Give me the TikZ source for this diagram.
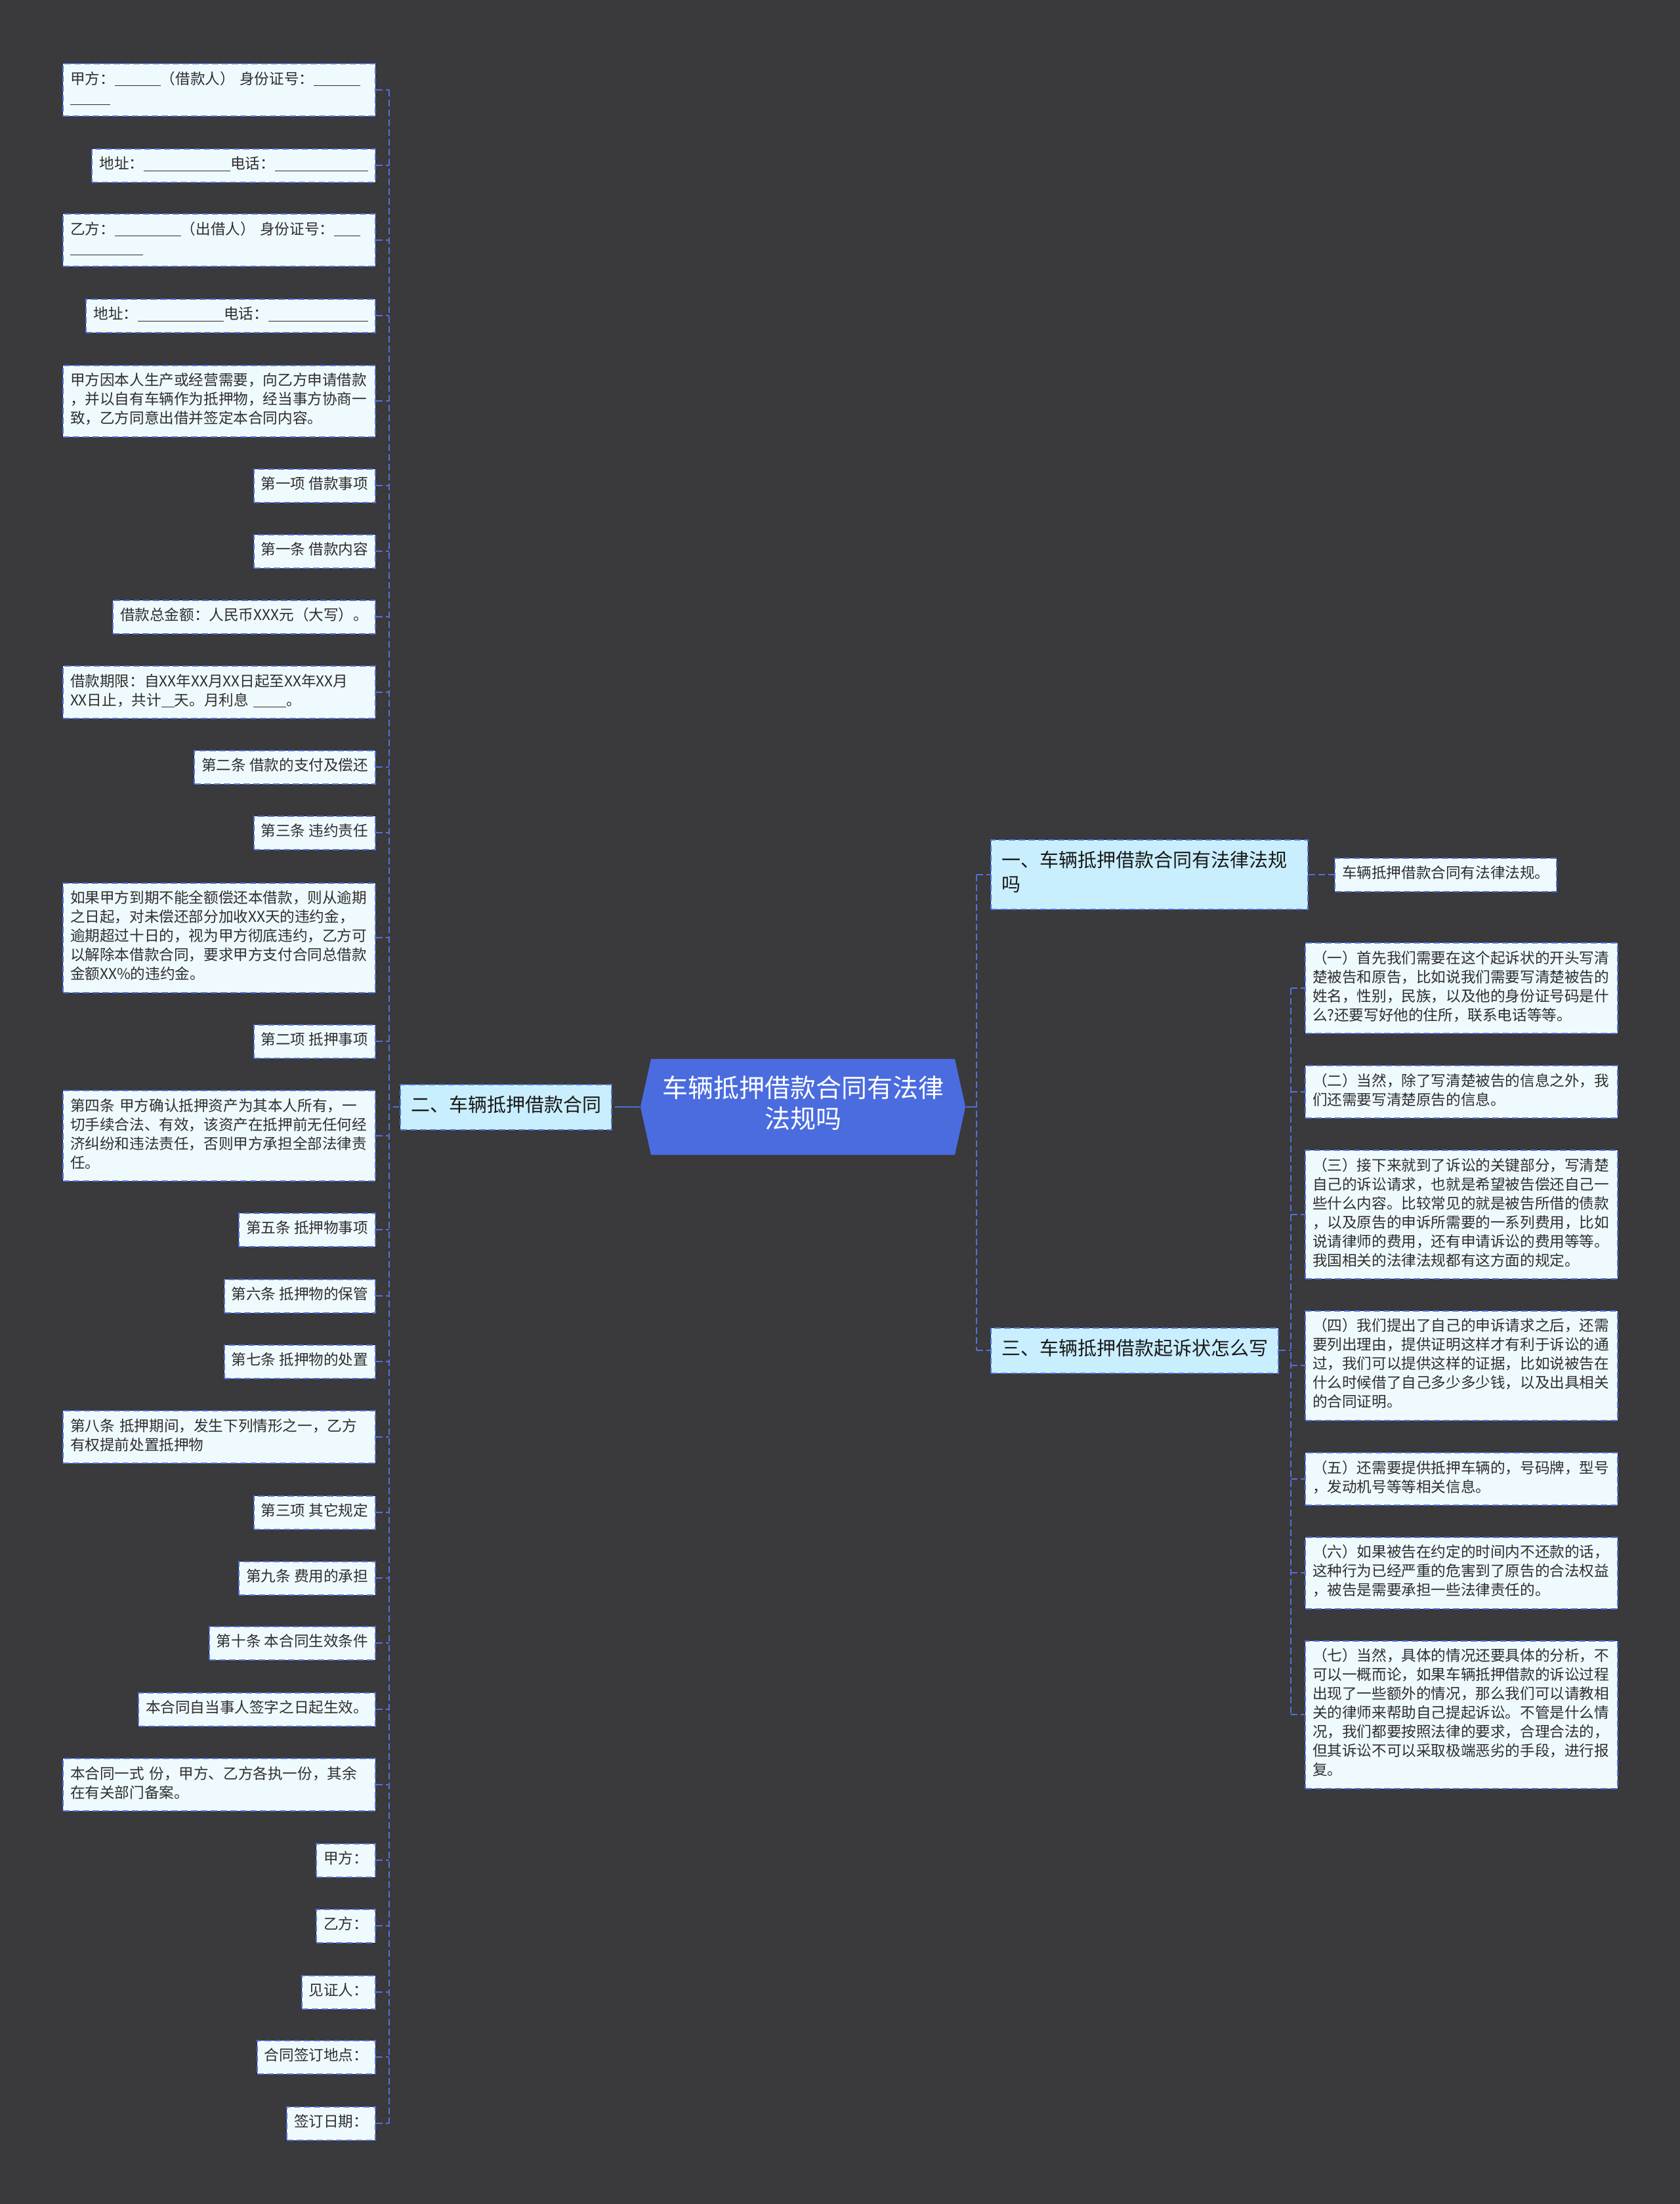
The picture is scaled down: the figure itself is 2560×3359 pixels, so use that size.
\documentclass[tikz,border=0pt]{standalone}
\usepackage{fontspec}
\setmainfont{Noto Sans CJK SC}
\usetikzlibrary{shapes.symbols}

\definecolor{canvas}{HTML}{3A393B}
\definecolor{leaffill}{HTML}{EFFAFE}
\definecolor{branchfill}{HTML}{C9EEFD}
\definecolor{rootblue}{HTML}{4A6CDF}
\definecolor{edgeblue}{HTML}{5272D8}
\definecolor{ink}{HTML}{2E2E2E}

\newcommand\leafsize{\fontsize{11.3pt}{14.5pt}\selectfont}
\newcommand\branchsize{\fontsize{14.5pt}{18.5pt}\selectfont}
\newcommand\rootsize{\fontsize{19.5pt}{23.5pt}\selectfont}
\newcommand\blank[1]{\rule[-1.5pt]{#1}{0.6pt}}

\begin{document}
\begin{tikzpicture}[
  x=0.5pt, y=-0.5pt,
  leaf/.style={rectangle, fill=leaffill, draw=edgeblue, line width=1pt,
    dash pattern=on 5pt off 2.5pt,
    preaction={draw=black!85, solid, line width=1pt},
    inner xsep=5.5pt, inner ysep=5.5pt, font=\leafsize, text=ink, align=left,
    execute at begin node=\strut, execute at end node=\strut},
  wideleaf/.style={leaf, text width=227pt},
  branch/.style={leaf, fill=branchfill, font=\branchsize, text=black!90,
    inner xsep=8pt, inner ysep=8pt},
  rootnode/.style={shape=signal, signal to=west and east, signal pointer angle=155,
    fill=rootblue, text=white, font=\rootsize, align=center,
    inner xsep=8.5pt, inner ysep=13pt,
    execute at begin node=\strut, execute at end node=\strut},
  twig/.style={draw=edgeblue, line width=1pt, dash pattern=on 5pt off 2.5pt},
  trunk/.style={draw=rootblue, line width=1.2pt}
]
  % Hintergrund
  \path[use as bounding box, fill=canvas] (0,0) rectangle (2560,3359);

  % Mitte
  \node[rootnode] (root) at (1223.5,1687) {车辆抵押借款合同有法律\\法规吗};

  % Hauptzweige
  \node[branch, anchor=west, text width=225.5pt] (b1) at (1509,1333) {一、车辆抵押借款合同有法律法规\\吗};
  \node[branch, anchor=east] (b2) at (933,1687) {二、车辆抵押借款合同};
  \node[branch, anchor=west] (b3) at (1509,2058) {三、车辆抵押借款起诉状怎么写};

  % Blaetter links (Vertrag)
  \node[wideleaf, anchor=east] (a1) at (573,137) {甲方：\blank{35pt}（借款人） 身份证号：\blank{35.5pt}\\\blank{30.5pt}};
  \node[leaf, anchor=east] (a2) at (573,252) {地址：\blank{66pt}电话：\blank{71pt}};
  \node[wideleaf, anchor=east] (a3) at (573,366) {乙方：\blank{50.5pt}（出借人） 身份证号：\blank{20pt}\\\blank{55.5pt}};
  \node[leaf, anchor=east] (a4) at (573,481) {地址：\blank{65.5pt}电话：\blank{76pt}};
  \node[wideleaf, anchor=east] (a5) at (573,611) {甲方因本人生产或经营需要，向乙方申请借款\\，并以自有车辆作为抵押物，经当事方协商一\\致，乙方同意出借并签定本合同内容。};
  \node[leaf, anchor=east] (a6) at (573,740) {第一项 借款事项};
  \node[leaf, anchor=east] (a7) at (573,840) {第一条 借款内容};
  \node[leaf, anchor=east] (a8) at (573,940) {借款总金额：人民币XXX元（大写）。};
  \node[wideleaf, anchor=east] (a9) at (573,1055) {借款期限：自XX年XX月XX日起至XX年XX月\\XX日止，共计\blank{10pt}天。月利息 \blank{25pt}。};
  \node[leaf, anchor=east] (a10) at (573,1169) {第二条 借款的支付及偿还};
  \node[leaf, anchor=east] (a11) at (573,1269) {第三条 违约责任};
  \node[wideleaf, anchor=east] (a12) at (573,1429) {如果甲方到期不能全额偿还本借款，则从逾期\\之日起，对未偿还部分加收XX天的违约金，\\逾期超过十日的，视为甲方彻底违约，乙方可\\以解除本借款合同，要求甲方支付合同总借款\\金额XX\%的违约金。};
  \node[leaf, anchor=east] (a13) at (573,1587) {第二项 抵押事项};
  \node[wideleaf, anchor=east] (a14) at (573,1731) {第四条 甲方确认抵押资产为其本人所有，一\\切手续合法、有效，该资产在抵押前无任何经\\济纠纷和违法责任，否则甲方承担全部法律责\\任。};
  \node[leaf, anchor=east] (a15) at (573,1874) {第五条 抵押物事项};
  \node[leaf, anchor=east] (a16) at (573,1975) {第六条 抵押物的保管};
  \node[leaf, anchor=east] (a17) at (573,2075) {第七条 抵押物的处置};
  \node[wideleaf, anchor=east] (a18) at (573,2190) {第八条 抵押期间，发生下列情形之一，乙方\\有权提前处置抵押物};
  \node[leaf, anchor=east] (a19) at (573,2305) {第三项 其它规定};
  \node[leaf, anchor=east] (a20) at (573,2405) {第九条 费用的承担};
  \node[leaf, anchor=east] (a21) at (573,2504) {第十条 本合同生效条件};
  \node[leaf, anchor=east] (a22) at (573,2605) {本合同自当事人签字之日起生效。};
  \node[wideleaf, anchor=east] (a23) at (573,2720) {本合同一式 份，甲方、乙方各执一份，其余\\在有关部门备案。};
  \node[leaf, anchor=east] (a24) at (573,2835) {甲方：};
  \node[leaf, anchor=east] (a25) at (573,2935) {乙方：};
  \node[leaf, anchor=east] (a26) at (573,3036) {见证人：};
  \node[leaf, anchor=east] (a27) at (573,3135) {合同签订地点：};
  \node[leaf, anchor=east] (a28) at (573,3236) {签订日期：};

  % Blaetter rechts
  \node[leaf, anchor=west] (c0) at (2033,1333) {车辆抵押借款合同有法律法规。};
  \node[wideleaf, anchor=west] (c1) at (1988,1506) {（一）首先我们需要在这个起诉状的开头写清\\楚被告和原告，比如说我们需要写清楚被告的\\姓名，性别，民族，以及他的身份证号码是什\\么?还要写好他的住所，联系电话等等。};
  \node[wideleaf, anchor=west] (c2) at (1988,1664) {（二）当然，除了写清楚被告的信息之外，我\\们还需要写清楚原告的信息。};
  \node[wideleaf, anchor=west] (c3) at (1988,1851) {（三）接下来就到了诉讼的关键部分，写清楚\\自己的诉讼请求，也就是希望被告偿还自己一\\些什么内容。比较常见的就是被告所借的债款\\，以及原告的申诉所需要的一系列费用，比如\\说请律师的费用，还有申请诉讼的费用等等。\\我国相关的法律法规都有这方面的规定。};
  \node[wideleaf, anchor=west] (c4) at (1988,2081) {（四）我们提出了自己的申诉请求之后，还需\\要列出理由，提供证明这样才有利于诉讼的通\\过，我们可以提供这样的证据，比如说被告在\\什么时候借了自己多少多少钱，以及出具相关\\的合同证明。};
  \node[wideleaf, anchor=west] (c5) at (1988,2254) {（五）还需要提供抵押车辆的，号码牌，型号\\，发动机号等等相关信息。};
  \node[wideleaf, anchor=west] (c6) at (1988,2397) {（六）如果被告在约定的时间内不还款的话，\\这种行为已经严重的危害到了原告的合法权益\\，被告是需要承担一些法律责任的。};
  \node[wideleaf, anchor=west] (c7) at (1988,2613) {（七）当然，具体的情况还要具体的分析，不\\可以一概而论，如果车辆抵押借款的诉讼过程\\出现了一些额外的情况，那么我们可以请教相\\关的律师来帮助自己提起诉讼。不管是什么情\\况，我们都要按照法律的要求，合理合法的，\\但其诉讼不可以采取极端恶劣的手段，进行报\\复。};

  % Sammelschienen
  \coordinate (lbus) at (593,0);
  \coordinate (rbus) at (1488,0);
  \coordinate (sbus) at (1967,0);
  \coordinate (ljoin) at (947,1687);

  % Verbindungen links
  \draw[trunk] (root.west) -- (ljoin);
  \draw[twig] (ljoin) -- (b2.east);
  \draw[twig] (b2.west) -- (b2.west -| lbus);
  \draw[twig] (a1.east -| lbus) -- (a28.east -| lbus);
  \foreach \i in {1,...,28}
    \draw[twig] (a\i.east) -- (a\i.east -| lbus);

  % Verbindungen rechts
  \draw[trunk] (root.east) -- (root.east -| rbus);
  \draw[twig] (b1.west -| rbus) -- (b3.west -| rbus);
  \draw[twig] (b1.west -| rbus) -- (b1.west);
  \draw[twig] (b3.west -| rbus) -- (b3.west);
  \draw[twig] (b1.east) -- (c0.west);
  \draw[twig] (b3.east) -- (b3.east -| sbus);
  \draw[twig] (c1.west -| sbus) -- (c7.west -| sbus);
  \foreach \i in {1,...,7}
    \draw[twig] (c\i.west -| sbus) -- (c\i.west);
\end{tikzpicture}
\end{document}
